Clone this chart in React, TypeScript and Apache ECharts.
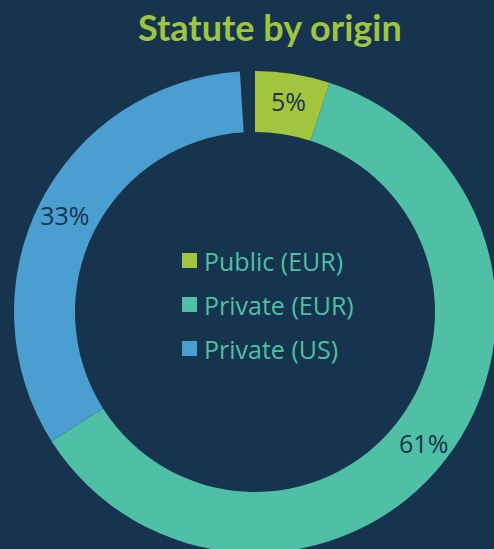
import React, { useEffect, useRef } from "react";
import * as echarts from "echarts";

const categories = ["Public (EUR)", "Private (EUR)", "Private (US)"];
const values = [5, 61, 33];
const remainder = 1;
const colors = ["#a2c540", "#4fbfa5", "#4a9ed0"];

export default function App() {
  const ref = useRef<HTMLDivElement>(null);
  useEffect(() => {
    document.body.style.margin = "0";
    const chart = echarts.init(ref.current!, null, { renderer: "svg" });
    const data: any[] = categories.map((c, i) => ({
      name: c,
      value: values[i],
      itemStyle: { color: colors[i] },
    }));
    data.push({
      name: "",
      value: remainder,
      itemStyle: { color: "transparent" },
      label: { show: false },
      emphasis: { disabled: true },
    });
    chart.setOption({
      animation: false,
      backgroundColor: "#17344f",
      title: {
        text: "Statute by origin",
        left: 138,
        top: 9,
        padding: 0,
        textStyle: {
          color: "#9fc540",
          fontSize: 36,
          fontWeight: "bold",
          fontFamily: "Lato",
        },
      },
      legend: {
        data: categories,
        orient: "vertical",
        left: 182,
        top: 248,
        padding: 0,
        itemWidth: 15,
        itemHeight: 15,
        itemGap: 19,
        icon: "rect",
        textStyle: {
          color: "#4fbfa5",
          fontSize: 25,
          lineHeight: 25,
          fontFamily: "Open Sans",
          padding: [0, 0, 0, 2],
        },
      },
      series: [
        {
          type: "pie",
          center: [255, 312],
          radius: [180, 241],
          startAngle: 90,
          clockwise: true,
          avoidLabelOverlap: false,
          silent: true,
          label: {
            show: true,
            position: "inside",
            formatter: (p: any) => p.value + "%",
            color: "#1a3550",
            fontSize: 25,
            fontFamily: "Open Sans",
          },
          labelLine: { show: false },
          data,
        },
      ],
    });
    return () => chart.dispose();
  }, []);
  return <div ref={ref} style={{ width: 494, height: 549 }} />;
}
